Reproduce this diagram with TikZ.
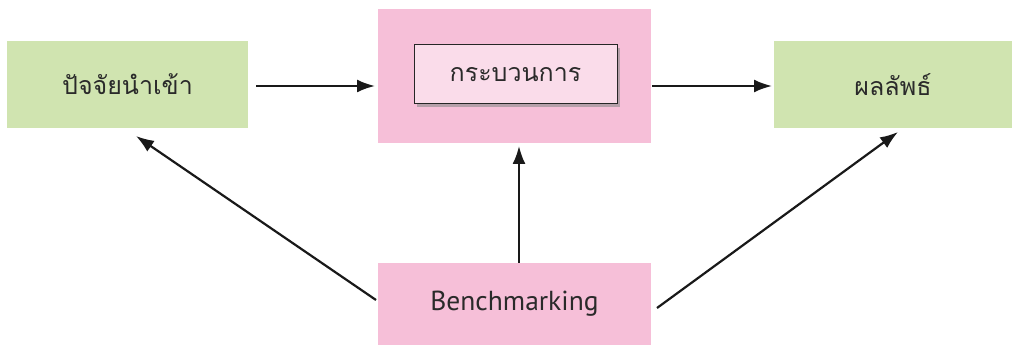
\documentclass[tikz,border=0pt]{standalone}
\usepackage{fontspec}
\setmainfont{PT Sans}
\newfontfamily\thaifont[Script=Thai]{Loma}
\usetikzlibrary{shadows,arrows.meta}
\definecolor{boxgreen}{HTML}{D0E4B0}
\definecolor{boxpink}{HTML}{F6BFD8}
\definecolor{innerpink}{HTML}{FADCEA}
\definecolor{txt}{HTML}{2A2A2A}
\begin{document}
\begin{tikzpicture}[x=1pt,y=-1pt,
  greenbox/.style={fill=boxgreen,draw=none,minimum width=241pt,minimum height=87pt,inner sep=0pt,text=txt,font=\thaifont\fontsize{25}{29}\selectfont},
  pinkbox/.style={fill=boxpink,draw=none,minimum width=273pt,inner sep=0pt,text=txt},
  innerbox/.style={fill=innerpink,draw=black!85,line width=1pt,minimum width=203pt,minimum height=59pt,inner sep=0pt,text=txt,font=\thaifont\fontsize{25}{29}\selectfont,drop shadow={shadow xshift=3pt,shadow yshift=-3pt,fill=black!45,opacity=0.6}},
  arr/.style={-{Latex[length=18pt,width=13pt]},line width=2.2pt,black!90}]
\useasboundingbox (0,0) rectangle (1012,347);
\node[greenbox] (input) at (127.5,84.5) {ปัจจัยนำเข้า};
\node[greenbox,minimum width=238pt] (output) at (893,84.5) {ผลลัพธ์};
\node[pinkbox,minimum height=134pt] (process) at (514.5,76) {};
\node[innerbox] (inner) at (515.5,74.5) {กระบวนการ};
\node[pinkbox,minimum height=82pt,font=\fontsize{27.5}{32}\selectfont] (bench) at (514.5,304) {Benchmarking};
\coordinate (a1s) at (256,86);
\coordinate (a1e) at (375,86);
\coordinate (a2s) at (652,86);
\coordinate (a2e) at (772,86);
\coordinate (vs) at (519,263);
\coordinate (ve) at (519,146);
\coordinate (ls) at (376,300);
\coordinate (le) at (136,136);
\coordinate (rs) at (657,308);
\coordinate (re) at (898,132);
\draw[arr] (a1s) -- (a1e);
\draw[arr] (a2s) -- (a2e);
\draw[arr] (vs) -- (ve);
\draw[arr] (ls) -- (le);
\draw[arr] (rs) -- (re);
\end{tikzpicture}
\end{document}
